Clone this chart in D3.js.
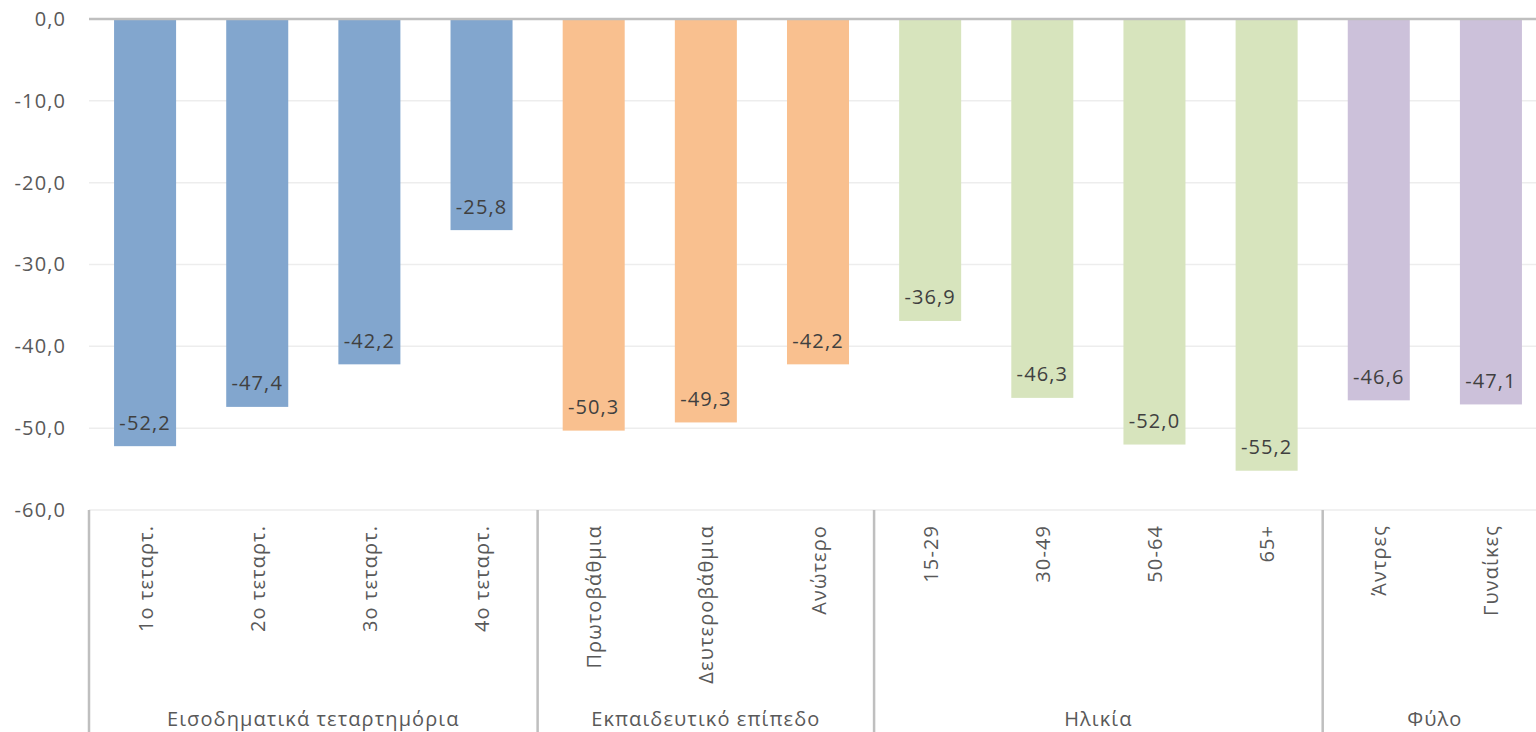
<!DOCTYPE html>
<html><head><meta charset="utf-8">
<script src="https://cdn.jsdelivr.net/npm/d3@7"></script>
<style>
html,body{margin:0;padding:0;background:#fff;}
svg{display:block;font-family:"Open Sans",sans-serif;}
svg text{letter-spacing:1.1px;}
</style></head>
<body>
<svg id="chart" width="1536" height="732"></svg>
<script>
const categories = ["1ο τεταρτ.","2ο τεταρτ.","3ο τεταρτ.","4ο τεταρτ.","Πρωτοβάθμια","Δευτεροβάθμια","Ανώτερο","15-29","30-49","50-64","65+","Άντρες","Γυναίκες"];
const values = [-52.2,-47.4,-42.2,-25.8,-50.3,-49.3,-42.2,-36.9,-46.3,-52.0,-55.2,-46.6,-47.1];
const groupOf = [0,0,0,0,1,1,1,2,2,2,2,3,3];
const groups = ["Εισοδηματικά τεταρτημόρια","Εκπαιδευτικό επίπεδο","Ηλικία","Φύλο"];
const groupColors = ["#82a6ce","#f9c08f","#d7e4bd","#ccc1da"];
const yTicks = [0,-10,-20,-30,-40,-50,-60];

(function(){
const svg = d3.select("#chart");
const pLeft = 89, pRight = 1547, pTop = 19, pBottom = 510;
const loc = d3.formatLocale({decimal:",", thousands:".", grouping:[3], currency:["","€"], minus:"-"});
const fmt = loc.format(".1f");

const x = d3.scaleBand().domain(categories).range([pLeft,pRight]).paddingInner(0.447).paddingOuter(0.2235);
const y = d3.scaleLinear().domain([0,-60]).range([pTop,pBottom]);

svg.append("g").selectAll("line").data(yTicks.filter(d=>d!==0)).join("line")
  .attr("x1",pLeft).attr("x2",pRight).attr("y1",d=>y(d)).attr("y2",d=>y(d))
  .attr("stroke","#ededed").attr("stroke-width",1.5);

const yAxis = d3.axisLeft(y).tickValues(yTicks).tickFormat(fmt).tickSize(0).tickPadding(0);
const ya = svg.append("g").attr("transform",`translate(66,0)`).call(yAxis);
ya.select(".domain").remove();
ya.selectAll("text").attr("fill","#595959").style("font-size","20px").style("font-family","'Open Sans',sans-serif");

svg.append("g").selectAll("rect").data(categories).join("rect")
  .attr("x",d=>x(d)).attr("width",x.bandwidth())
  .attr("y",y(0)).attr("height",(d,i)=>y(values[i])-y(0))
  .attr("fill",(d,i)=>groupColors[groupOf[i]]);

svg.append("line").attr("x1",pLeft).attr("x2",1536).attr("y1",y(0)).attr("y2",y(0))
  .attr("stroke","#bfbfbf").attr("stroke-width",2.5);

svg.append("g").selectAll("text").data(categories).join("text")
  .attr("x",d=>x(d)+x.bandwidth()/2).attr("y",(d,i)=>y(values[i])-24)
  .attr("text-anchor","middle").attr("dominant-baseline","central")
  .attr("fill","#404040").style("font-size","20px")
  .text((d,i)=>fmt(values[i]));

svg.append("g").selectAll("text").data(categories).join("text")
  .attr("transform",d=>`translate(${x(d)+x.bandwidth()/2},${pBottom+15}) rotate(-90)`)
  .attr("text-anchor","end").attr("dominant-baseline","central")
  .attr("fill","#595959").style("font-size","20px")
  .text(d=>d);

const sepIdx = [0];
for(let i=1;i<categories.length;i++) if(groupOf[i]!==groupOf[i-1]) sepIdx.push(i);
const sepX = sepIdx.map(i=>x(categories[i]) - x.step()*x.paddingInner()/2).concat([pRight]);
svg.append("g").selectAll("line").data(sepX).join("line")
  .attr("x1",d=>d).attr("x2",d=>d).attr("y1",pBottom).attr("y2",732)
  .attr("stroke","#bfbfbf").attr("stroke-width",2.5);

svg.append("g").selectAll("text").data(groups).join("text")
  .attr("x",(d,i)=>(sepX[i]+sepX[i+1])/2).attr("y",718)
  .attr("text-anchor","middle").attr("dominant-baseline","central")
  .attr("fill","#595959").style("font-size","20px")
  .text(d=>d);
})();
</script>
</body></html>
